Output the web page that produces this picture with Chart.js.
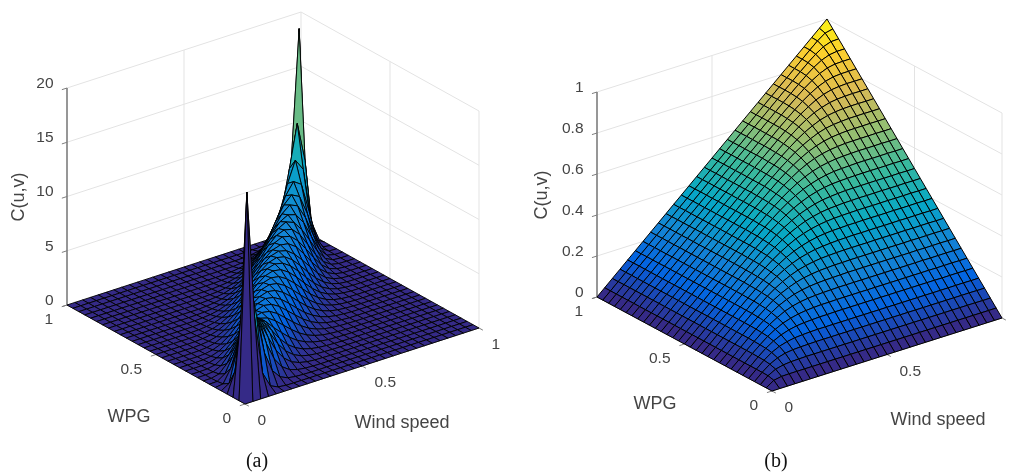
<!DOCTYPE html>
<html>
<head>
<meta charset="utf-8">
<script src="https://cdn.jsdelivr.net/npm/chart.js@4"></script>
<style>
html,body{margin:0;padding:0;background:#fff;width:1014px;height:475px;overflow:hidden}
canvas{position:absolute;top:0;filter:blur(.35px)}
#a{left:0}#b{left:510px}
</style>
</head>
<body>
<canvas id="a" width="510" height="475"></canvas>
<canvas id="b" width="504" height="475"></canvas>
<script>
// Panel (a): density heights; row i holds cells j = i, i+1, ... (the rest are 0)
const aRow1=[19,7.13,1.87,.44,.10,.02];
const aRow2=[10.8,6.78,3.19,1.32,.50,.17,.06,.02];
const aRow3=[7.71,5.84,3.53,1.87,.89,.39,.16,.06,.02];
const aRow4=[6.30,5.14,3.53,2.12,1.16,.57,.27,.11,.04,.02];
const aRow5=[5.40,4.58,3.37,2.17,1.27,.70,.35,.17,.08,.04,.01];
const aRow6=[4.70,4.07,3.08,2.10,1.32,.80,.45,.24,.12,.06,.02];
const aRow7=[4.10,3.59,2.81,2.12,1.46,.94,.57,.31,.16,.07,.03,.01];
const aRow8=[3.60,3.39,2.89,2.26,1.64,1.08,.66,.38,.19,.10,.04,.01];
const aRow9=[3.59,3.46,3.03,2.41,1.78,1.21,.75,.43,.23,.11,.05,.02];
const aRow10=[3.70,3.57,3.15,2.53,1.90,1.30,.82,.47,.25,.12,.05];
const aRow11=[3.80,3.67,3.26,2.66,1.99,1.36,.87,.50,.26,.12,.05,.01];
const aRow12=[3.90,3.78,3.37,2.76,2.07,1.42,.90,.51,.26,.12,.05,.01];
const aRow13=[4.00,3.88,3.46,2.83,2.13,1.46,.91,.50,.25,.11,.04];
const aRow14=[4.10,3.98,3.54,2.90,2.17,1.45,.89,.48,.22,.08,.02];
const aRow15=[4.20,4.08,3.62,2.94,2.16,1.44,.85,.44,.19,.07,.01];
const aRow16=[4.30,4.14,3.66,2.94,2.14,1.39,.78,.38,.15,.05];
const aRow17=[4.35,4.19,3.68,2.92,2.08,1.31,.71,.31,.10,.02];
const aRow18=[4.40,4.22,3.68,2.91,2.06,1.22,.59,.23,.06,.01];
const aRow19=[4.44,4.32,3.81,2.93,1.93,1.08,.48,.15,.02];
const aRow20=[4.65,4.47,3.82,2.86,1.82,.91,.33,.08];
const aRow21=[4.75,4.57,3.86,2.73,1.57,.68,.18,.02];
const aRow22=[4.95,4.67,3.79,2.59,1.34,.43,.06];
const aRow23=[5.06,4.85,3.90,2.37,.96,.18,.01];
const aRow24=[5.44,5.13,3.81,1.98,.52,.02];
const aRow25=[5.83,5.45,3.65,1.36,.10];
const aRow26=[6.52,6.03,3.29,.45];
const aRow27=[7.95,6.88,1.87];
const aRow28=[10.8,7.13];
const aRow29=[19];
// Panel (b): C(u,v) heights; the last value of a row is its plateau
const bRow1=[.025,.032,.033];
const bRow2=[.052,.061,.065,.066,.067];
const bRow3=[.080,.091,.096,.098,.099,.1];
const bRow4=[.109,.120,.127,.130,.132,.133];
const bRow5=[.138,.150,.158,.162,.164,.166,.166,.167];
const bRow6=[.168,.180,.189,.194,.197,.199,.199,.2];
const bRow7=[.199,.212,.221,.226,.229,.231,.232,.233];
const bRow8=[.229,.243,.252,.258,.262,.264,.265,.266,.267];
const bRow9=[.260,.274,.284,.290,.295,.297,.299,.299,.3];
const bRow10=[.292,.306,.316,.323,.328,.330,.332,.333];
const bRow11=[.324,.338,.348,.356,.360,.363,.365,.366,.367];
const bRow12=[.356,.370,.381,.389,.394,.397,.398];
const bRow13=[.389,.403,.414,.422,.427];
const bRow14=[.421,.436,.447];
const bRow15=[.455];
const aRows=[aRow1,aRow2,aRow3,aRow4,aRow5,aRow6,aRow7,aRow8,aRow9,aRow10,aRow11,aRow12,aRow13,aRow14,aRow15,aRow16,aRow17,aRow18,aRow19,aRow20,aRow21,aRow22,aRow23,aRow24,aRow25,aRow26,aRow27,aRow28,aRow29];
const bRows=[bRow1,bRow2,bRow3,bRow4,bRow5,bRow6,bRow7,bRow8,bRow9,bRow10,bRow11,bRow12,bRow13,bRow14,bRow15];
const zTicksA=[0,5,10,15,20];
const zTicksB=[0,.2,.4,.6,.8,1];
const zLabelsA=['0','5','10','15','20'];
const zLabelsB=['0','0.2','0.4','0.6','0.8','1'];
const floorTicks=[0,.5,1];
const floorLabels=['0','0.5','1'];
const N=30;

function densityAt(i,j){
  if(i>j)[i,j]=[j,i];
  if(i===0||j===N)return 0;
  const v=aRows[i-1][j-i];
  return v===undefined?0:v;
}
function copulaAt(i,j){
  if(i>j)[i,j]=[j,i];
  if(i===0)return 0;
  if(i+j>N)return (i+j-N)/N+copulaAt(N-j,N-i);
  const r=bRows[i-1];
  return r[Math.min(j-i,r.length-1)];
}
const PARULA=[[53,42,135],[3,99,225],[20,133,212],[6,167,198],[56,185,158],[146,191,115],[217,186,86],[252,206,46],[249,251,14]];
function parula(t){
  t=Math.max(0,Math.min(1,t))*(PARULA.length-1);
  const k=Math.min(Math.floor(t),PARULA.length-2),f=t-k,a=PARULA[k],b=PARULA[k+1];
  return 'rgb('+a.map((c,n)=>Math.round(c+(b[n]-c)*f)).join(',')+')';
}
function makePanel(id,cfg){
  const P=(u,v,z)=>({x:cfg.front[0]+u*cfg.uVec[0]+v*cfg.vVec[0],y:cfg.front[1]+u*cfg.uVec[1]+v*cfg.vVec[1]-z*cfg.zScale});
  const ds=[];
  const lineDs=(pts,color,w)=>({data:pts,showLine:true,fill:false,borderColor:color,borderWidth:w,pointRadius:0,tension:0});
  // surface, front to back: the first dataset is painted last
  let zMax=0;
  for(let i=0;i<=N;i++)for(let j=0;j<=N;j++)zMax=Math.max(zMax,cfg.at(i,j));
  for(let s=0;s<=2*(N-1);s++){
    for(let i=0;i<N;i++){
      const j=s-i; if(j<0||j>=N)continue;
      const q=[[i,j],[i+1,j],[i+1,j+1],[i,j+1],[i,j]].map(([a,b])=>P(a/N,b/N,cfg.at(a,b)));
      ds.push({data:q,showLine:true,fill:'shape',backgroundColor:parula(cfg.at(i,j)/zMax),borderColor:'#000',borderWidth:cfg.mesh,pointRadius:0,tension:0,borderJoinStyle:'round'});
    }
  }
  // axes and ticks
  const AX='#7d7d7d';
  ds.push(lineDs([P(0,1,0),P(0,0,0),P(1,0,0)],AX,1));
  ds.push(lineDs([P(0,1,0),P(0,1,cfg.zTop)],AX,1.6));
  cfg.zTicks.forEach(z=>ds.push(lineDs([P(0,1,z),P(-.022,1,z)],AX,1)));
  floorTicks.forEach(t=>{
    ds.push(lineDs([P(0,t,0),P(-.022,t,0)],AX,1));
    ds.push(lineDs([P(t,0,0),P(t,-.022,0)],AX,1));
  });
  // wall grid
  const G='#e3e3e3';
  cfg.zTicks.forEach(z=>ds.push(lineDs([P(0,1,z),P(1,1,z),P(1,0,z)],G,1)));
  [[.5,1],[1,1],[1,.5],[1,0]].forEach(([u,v])=>ds.push(lineDs([P(u,v,0),P(u,v,cfg.zTop)],G,1)));
  const textPlugin={id:'txt',afterDraw(c){
    const ctx=c.ctx,X=c.scales.x,Y=c.scales.y,px=(p)=>[X.getPixelForValue(p.x),Y.getPixelForValue(p.y)];
    ctx.save();ctx.fillStyle='#444';ctx.textBaseline='middle';
    ctx.font='15.5px "Liberation Sans"';
    ctx.textAlign='right';
    cfg.zTicks.forEach((z,k)=>{const [x,y]=px(P(0,1,z));ctx.fillText(cfg.zLabels[k],x-13.5,y-4.5);});
    floorTicks.forEach((t,k)=>{const [x,y]=px(P(0,t,0));ctx.fillText(floorLabels[k],x-14,y+15);});
    ctx.textAlign='left';
    floorTicks.forEach((t,k)=>{const [x,y]=px(P(t,0,0));ctx.fillText(floorLabels[k],x+12.5,y+17);});
    ctx.font='18px "Liberation Sans"';ctx.textAlign='center';
    ctx.fillText('WPG',X.getPixelForValue(cfg.wpg[0]),Y.getPixelForValue(cfg.wpg[1]));
    ctx.fillText('Wind speed',X.getPixelForValue(cfg.wind[0]),Y.getPixelForValue(cfg.wind[1]));
    ctx.save();ctx.translate(X.getPixelForValue(cfg.cuv[0]),Y.getPixelForValue(cfg.cuv[1]));ctx.rotate(-Math.PI/2);ctx.fillText('C(u,v)',0,0);ctx.restore();
    ctx.fillStyle='#111';ctx.font='20px "Liberation Serif"';
    ctx.fillText(cfg.caption,X.getPixelForValue(cfg.cap[0]),Y.getPixelForValue(cfg.cap[1]));
    ctx.restore();
  }};
  const el=document.getElementById(id);
  return new Chart(el,{type:'scatter',data:{datasets:ds},plugins:[textPlugin],options:{
    responsive:false,animation:false,events:[],layout:{padding:0},
    plugins:{legend:{display:false},tooltip:{enabled:false},title:{display:false}},
    scales:{x:{type:'linear',display:false,min:0,max:el.width},y:{type:'linear',display:false,min:0,max:el.height,reverse:true}}
  }});
}
makePanel('a',{at:densityAt,mesh:.9,front:[245,404],uVec:[234,-76],vVec:[-178,-99],zScale:10.85,zTop:20,zTicks:zTicksA,zLabels:zLabelsA,
  wpg:[129,417],wind:[402,423],cuv:[19,197],caption:'(a)',cap:[257,462]});
makePanel('b',{at:copulaAt,mesh:1,front:[262,391],uVec:[230,-73],vVec:[-175,-94],zScale:205,zTop:1,zTicks:zTicksB,zLabels:zLabelsB,
  wpg:[145,404],wind:[428,420],cuv:[32,195],caption:'(b)',cap:[266,462]});
</script>
</body>
</html>
